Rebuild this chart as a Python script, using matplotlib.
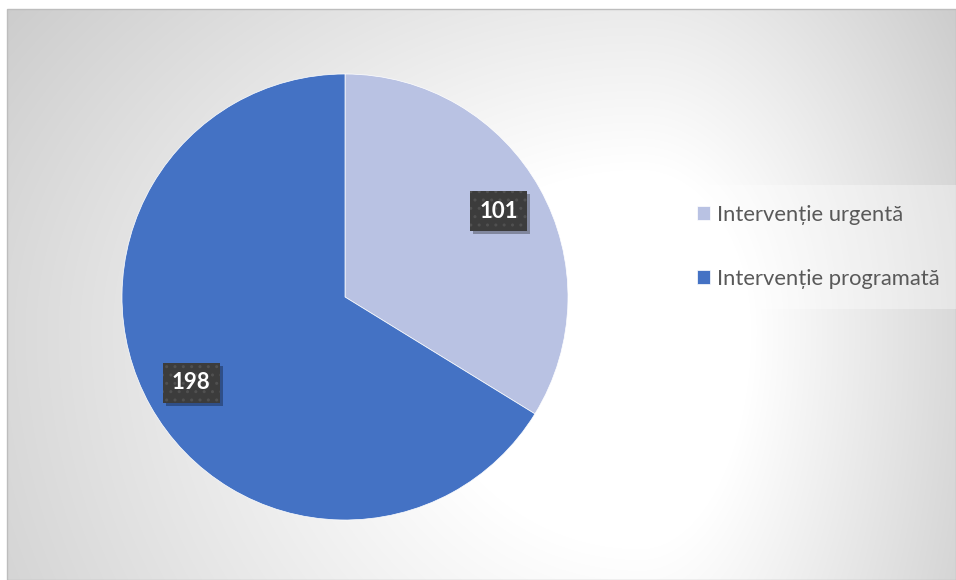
import numpy as np
import matplotlib
matplotlib.use("Agg")
import matplotlib.pyplot as plt
from matplotlib.patches import Rectangle
from matplotlib.transforms import IdentityTransform

labels = ['Intervenție urgentă', 'Intervenție programată']
values = [101, 198]
colors = ['#B9C2E3', '#4472C4']

W, H = 956, 580
fig = plt.figure(figsize=(W / 100, H / 100), dpi=100)

# background: white margin, grey radial-ish gradient in the chart frame
bg = fig.add_axes([0, 0, 1, 1])
bg.set_xlim(0, W)
bg.set_ylim(H, 0)
bg.axis('off')
xx, yy = np.meshgrid(np.arange(W), np.arange(H))
cx, cy = 640, 330
sx = np.where(xx < cx, cx - 7, W - cx)
sy = np.where(yy < cy, (cy - 9) / 0.7, 625)
d = np.sqrt(((xx - cx) / sx) ** 2 + ((yy - cy) / sy) ** 2)
shade = 1 - 0.25 * np.clip((d - 0.35) / 1.1, 0, 1)
img = np.dstack([shade] * 3)
img[:9, :] = 1
img[:, :7] = 1
bg.imshow(img, extent=(0, W, H, 0), interpolation='bilinear', aspect='auto')
bg.add_patch(Rectangle((7, 9), W - 7, H - 9, fill=False, edgecolor='#BDBDBD', lw=1))

# pie
R = 223.0
lim = 1.03
ax = fig.add_axes([(345 - R * lim) / W, (H - 297 - R * lim) / H, 2 * R * lim / W, 2 * R * lim / H])
wedges, _ = ax.pie(values, colors=colors, startangle=90, counterclock=False,
                   wedgeprops=dict(edgecolor='white', linewidth=0.5))
ax.set_xlim(-lim, lim)
ax.set_ylim(-lim, lim)
ax.set_aspect('equal')
ax.axis('off')

value_texts = []
for w, v in zip(wedges, values):
    ang = np.deg2rad((w.theta1 + w.theta2) / 2)
    t = ax.text(0.79 * np.cos(ang), 0.79 * np.sin(ang), str(v), ha='center', va='center',
                color='white', fontsize=16, fontweight='bold', family='Lato', zorder=5,
                bbox=dict(boxstyle='square,pad=0.42', facecolor='#3C3C3C',
                          edgecolor='#505050', linewidth=0, hatch='..'))
    value_texts.append(t)

# soft shadow under each label box, sized from the drawn box (pixel coords)
fig.canvas.draw()
for t in value_texts:
    bb = t.get_bbox_patch().get_window_extent()
    ax.add_artist(Rectangle((bb.x0 + 3, bb.y0 - 3), bb.width, bb.height,
                            transform=IdentityTransform(), facecolor='black', alpha=0.3,
                            linewidth=0, zorder=4, clip_on=False))

# legend
leg = fig.legend(wedges, labels, loc='center left', bbox_to_anchor=(677 / W, 1 - 247 / H),
                 frameon=True, fancybox=False, prop=dict(family='Lato', size=15.8),
                 handlelength=0.62, handleheight=0.62, handletextpad=0.3,
                 labelspacing=2.0, borderpad=0.9, borderaxespad=0)
leg.get_frame().set_facecolor('white')
leg.get_frame().set_alpha(0.35)
leg.get_frame().set_linewidth(0)
for txt in leg.get_texts():
    txt.set_color('#595959')

fig.savefig('out.png', dpi=100)
